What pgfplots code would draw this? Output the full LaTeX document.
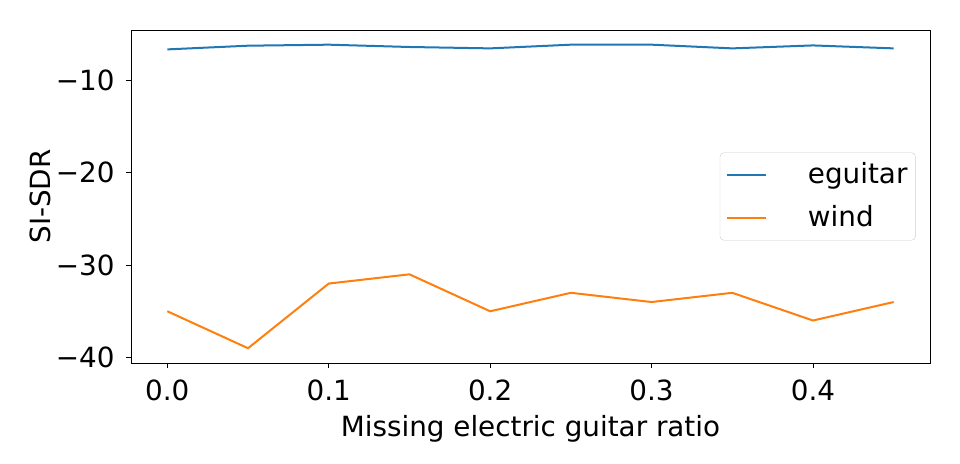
\documentclass[border=0pt]{standalone}
\usepackage{pgfplots}
\pgfplotsset{compat=1.18}
\usepackage{fontspec}
\setmainfont{DejaVu Sans}
\definecolor{mplblue}{HTML}{1F77B4}
\definecolor{mplorange}{HTML}{FF7F0E}
\newcommand{\bigf}{\fontsize{27.8}{33}\selectfont}
\begin{document}
\bigf
\begin{tikzpicture}
\begin{axis}[
  scale only axis,
  width=799pt, height=333pt,
  xmin=-0.0225, xmax=0.4725,
  ymin=-40.6, ymax=-4.55,
  xtick={0,0.1,0.2,0.3,0.4},
  xticklabels={0.0,0.1,0.2,0.3,0.4},
  ytick={-40,-30,-20,-10},
  yticklabels={−40,−30,−20,−10},
  /pgf/number format/assume math mode=true,
  tick align=outside,
  xtick pos=bottom, ytick pos=left,
  major tick length=5pt,
  tick style={black, line width=0.8pt},
  axis line style={black, line width=0.8pt},
  tick label style={font=\bigf},
  label style={font=\bigf},
  xticklabel style={yshift=-2pt},
  yticklabel style={xshift=-2pt},
  xlabel={Missing electric guitar ratio},
  ylabel={SI-SDR},
  xlabel style={yshift=4pt},
  ylabel style={yshift=-14pt},
  legend style={at={(0.982,0.5)}, anchor=east, draw=black!20, rounded corners=4pt,
    font=\bigf, inner xsep=6pt, inner ysep=8pt, row sep=13pt,
    cells={anchor=west},
    /tikz/every odd column/.append style={column sep=39pt}},
  legend cell align=left,
  legend image code/.code={\draw[#1] (0pt,0pt) -- (39pt,0pt);},
]
\addplot[mplblue, line width=2pt] coordinates {
(0.00,-6.65) (0.05,-6.25) (0.10,-6.14) (0.15,-6.39) (0.20,-6.54)
(0.25,-6.14) (0.30,-6.14) (0.35,-6.54) (0.40,-6.22) (0.45,-6.54)};
\addlegendentry{eguitar}
\addplot[mplorange, line width=2pt] coordinates {
(0.00,-35) (0.05,-39) (0.10,-32) (0.15,-31) (0.20,-35)
(0.25,-33) (0.30,-34) (0.35,-33) (0.40,-36) (0.45,-34)};
\addlegendentry{wind}
\end{axis}
\path[use as bounding box] ([shift={(-131pt,-100pt)}]current axis.south west) rectangle ([shift={(30pt,30pt)}]current axis.north east);
\end{tikzpicture}
\end{document}
